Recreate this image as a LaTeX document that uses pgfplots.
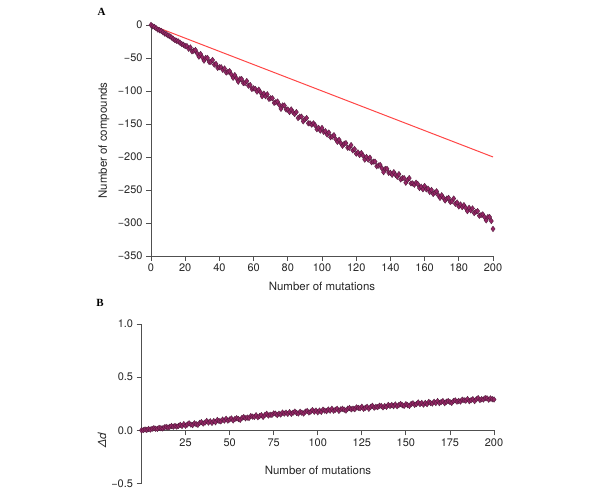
\documentclass[border=0pt]{standalone}
\usepackage{pgfplots}
\pgfplotsset{compat=1.18}
\usepackage{pgfplotstable}
\usepackage{fontspec}
\setmainfont{TeX Gyre Heros}
\newfontfamily\panelfont{Liberation Serif}
\definecolor{mfill}{RGB}{150,38,102}
\definecolor{medge}{RGB}{78,26,58}
\definecolor{axgray}{RGB}{80,80,80}
\definecolor{redline}{RGB}{255,70,70}

\pgfplotstableread[row sep=\\]{
x y\\
0 0\\ 1 -2\\ 2 -3\\ 3 -5\\ 4 -7\\ 5 -8\\ 6 -9\\ 7 -11\\ 8 -13\\ 9 -14\\
10 -16\\ 11 -17\\ 12 -19\\ 13 -21\\ 14 -23\\ 15 -24\\ 16 -25\\ 17 -27\\ 18 -29\\ 19 -30\\
20 -32\\ 21 -32\\ 22 -36\\ 23 -34\\ 24 -40\\ 25 -39\\ 26 -38\\ 27 -43\\ 28 -48\\ 29 -44\\
30 -49\\ 31 -54\\ 32 -50\\ 33 -50\\ 34 -56\\ 35 -56\\ 36 -53\\ 37 -60\\ 38 -59\\ 39 -65\\
40 -64\\ 41 -64\\ 42 -68\\ 43 -66\\ 44 -72\\ 45 -71\\ 46 -70\\ 47 -75\\ 48 -80\\ 49 -76\\
50 -81\\ 51 -86\\ 52 -82\\ 53 -82\\ 54 -88\\ 55 -88\\ 56 -85\\ 57 -92\\ 58 -91\\ 59 -97\\
60 -96\\ 61 -97\\ 62 -101\\ 63 -98\\ 64 -102\\ 65 -108\\ 66 -104\\ 67 -108\\ 68 -105\\ 69 -112\\
70 -111\\ 71 -111\\ 72 -118\\ 73 -117\\ 74 -116\\ 75 -121\\ 76 -127\\ 77 -122\\ 78 -122\\ 79 -128\\
80 -128\\ 81 -132\\ 82 -128\\ 83 -132\\ 84 -135\\ 85 -132\\ 86 -141\\ 87 -139\\ 88 -139\\ 89 -146\\
90 -143\\ 91 -141\\ 92 -149\\ 93 -149\\ 94 -151\\ 95 -149\\ 96 -152\\ 97 -158\\ 98 -156\\ 99 -160\\
100 -156\\ 101 -162\\ 102 -161\\ 103 -166\\ 104 -163\\ 105 -170\\ 106 -169\\ 107 -167\\ 108 -173\\ 109 -177\\
110 -174\\ 111 -179\\ 112 -183\\ 113 -180\\ 114 -179\\ 115 -186\\ 116 -186\\ 117 -182\\ 118 -190\\ 119 -188\\
120 -195\\ 121 -193\\ 122 -197\\ 123 -194\\ 124 -198\\ 125 -204\\ 126 -200\\ 127 -204\\ 128 -201\\ 129 -208\\
130 -207\\ 131 -207\\ 132 -214\\ 133 -213\\ 134 -212\\ 135 -217\\ 136 -223\\ 137 -218\\ 138 -218\\ 139 -224\\
140 -224\\ 141 -227\\ 142 -223\\ 143 -227\\ 144 -230\\ 145 -226\\ 146 -234\\ 147 -232\\ 148 -232\\ 149 -239\\
150 -235\\ 151 -232\\ 152 -240\\ 153 -240\\ 154 -242\\ 155 -239\\ 156 -241\\ 157 -247\\ 158 -245\\ 159 -249\\
160 -244\\ 161 -249\\ 162 -248\\ 163 -253\\ 164 -250\\ 165 -256\\ 166 -254\\ 167 -252\\ 168 -258\\ 169 -262\\
170 -258\\ 171 -262\\ 172 -266\\ 173 -263\\ 174 -262\\ 175 -268\\ 176 -267\\ 177 -263\\ 178 -271\\ 179 -269\\
180 -275\\ 181 -272\\ 182 -276\\ 183 -273\\ 184 -277\\ 185 -282\\ 186 -277\\ 187 -281\\ 188 -278\\ 189 -285\\
190 -283\\ 191 -282\\ 192 -289\\ 193 -288\\ 194 -287\\ 195 -291\\ 196 -296\\ 197 -291\\ 198 -291\\ 199 -297\\
200 -309\\
}\tableA

\pgfplotstableread[row sep=\\]{
x y\\
0 0.000\\ 1 0.002\\ 2 0.008\\ 3 0.004\\ 4 0.013\\ 5 0.007\\ 6 0.014\\ 7 0.020\\ 8 0.015\\ 9 0.014\\
10 0.023\\ 11 0.020\\ 12 0.018\\ 13 0.028\\ 14 0.032\\ 15 0.027\\ 16 0.033\\ 17 0.041\\ 18 0.034\\ 19 0.041\\
20 0.035\\ 21 0.042\\ 22 0.052\\ 23 0.041\\ 24 0.058\\ 25 0.043\\ 26 0.055\\ 27 0.066\\ 28 0.054\\ 29 0.049\\
30 0.066\\ 31 0.058\\ 32 0.052\\ 33 0.070\\ 34 0.077\\ 35 0.064\\ 36 0.073\\ 37 0.088\\ 38 0.073\\ 39 0.085\\
40 0.070\\ 41 0.087\\ 42 0.076\\ 43 0.097\\ 44 0.088\\ 45 0.084\\ 46 0.101\\ 47 0.091\\ 48 0.109\\ 49 0.091\\
50 0.102\\ 51 0.112\\ 52 0.093\\ 53 0.107\\ 54 0.114\\ 55 0.106\\ 56 0.099\\ 57 0.117\\ 58 0.124\\ 59 0.113\\
60 0.120\\ 61 0.116\\ 62 0.134\\ 63 0.129\\ 64 0.126\\ 65 0.142\\ 66 0.123\\ 67 0.134\\ 68 0.143\\ 69 0.126\\
70 0.144\\ 71 0.156\\ 72 0.139\\ 73 0.147\\ 74 0.145\\ 75 0.159\\ 76 0.157\\ 77 0.144\\ 78 0.156\\ 79 0.149\\
80 0.167\\ 81 0.157\\ 82 0.166\\ 83 0.155\\ 84 0.171\\ 85 0.155\\ 86 0.166\\ 87 0.176\\ 88 0.164\\ 89 0.158\\
90 0.174\\ 91 0.165\\ 92 0.158\\ 93 0.176\\ 94 0.182\\ 95 0.168\\ 96 0.176\\ 97 0.190\\ 98 0.175\\ 99 0.186\\
100 0.170\\ 101 0.186\\ 102 0.174\\ 103 0.195\\ 104 0.185\\ 105 0.180\\ 106 0.196\\ 107 0.185\\ 108 0.203\\ 109 0.184\\
110 0.194\\ 111 0.203\\ 112 0.183\\ 113 0.197\\ 114 0.203\\ 115 0.194\\ 116 0.186\\ 117 0.203\\ 118 0.210\\ 119 0.198\\
120 0.204\\ 121 0.199\\ 122 0.216\\ 123 0.211\\ 124 0.207\\ 125 0.222\\ 126 0.202\\ 127 0.212\\ 128 0.221\\ 129 0.203\\
130 0.220\\ 131 0.231\\ 132 0.213\\ 133 0.221\\ 134 0.218\\ 135 0.231\\ 136 0.229\\ 137 0.216\\ 138 0.228\\ 139 0.221\\
140 0.239\\ 141 0.229\\ 142 0.238\\ 143 0.227\\ 144 0.243\\ 145 0.227\\ 146 0.238\\ 147 0.248\\ 148 0.236\\ 149 0.230\\
150 0.246\\ 151 0.237\\ 152 0.230\\ 153 0.248\\ 154 0.254\\ 155 0.240\\ 156 0.248\\ 157 0.262\\ 158 0.247\\ 159 0.258\\
160 0.242\\ 161 0.258\\ 162 0.246\\ 163 0.267\\ 164 0.257\\ 165 0.252\\ 166 0.268\\ 167 0.257\\ 168 0.275\\ 169 0.256\\
170 0.266\\ 171 0.275\\ 172 0.255\\ 173 0.269\\ 174 0.275\\ 175 0.266\\ 176 0.258\\ 177 0.275\\ 178 0.282\\ 179 0.270\\
180 0.276\\ 181 0.271\\ 182 0.288\\ 183 0.283\\ 184 0.279\\ 185 0.294\\ 186 0.274\\ 187 0.284\\ 188 0.293\\ 189 0.275\\
190 0.292\\ 191 0.303\\ 192 0.285\\ 193 0.293\\ 194 0.290\\ 195 0.303\\ 196 0.301\\ 197 0.288\\ 198 0.300\\ 199 0.293\\
200 0.290\\
}\tableB

\pgfplotsset{
  common/.style={
    scale only axis,
    anchor=south west,
    axis line style={axgray, line width=0.9bp},
    tick style={axgray, line width=0.9bp},
    tick align=outside,
    major tick length=5bp,
    /pgf/number format/assume math mode=true,
    ticklabel style={font=\fontsize{11}{13}\selectfont, text=black!85},
    clip=false,
  },
  pts/.style={only marks, mark=diamond*, mark size=2.8bp,
    mark options={fill=mfill, draw=medge, line width=0.35bp}},
}

\begin{document}
\begin{tikzpicture}[x=1bp,y=1bp]
\useasboundingbox (0,0) rectangle (600,495);
% Panel A
\begin{axis}[common,
  at={(151bp,239bp)},
  width=342bp, height=233bp,
  xmin=0, xmax=200, ymin=-350, ymax=3,
  axis x line*=bottom, axis y line*=left,
  xtick={0,20,...,200},
  ytick={-350,-300,-250,-200,-150,-100,-50,0},
  yticklabels={−350,−300,−250,−200,−150,−100,−50,0},
  xticklabel style={yshift=1bp},
]
\addplot[redline, line width=1bp] coordinates {(0,0) (200,-200)};
\addplot[pts] table[x=x,y=y] {\tableA};
\end{axis}
% Panel B
\begin{axis}[common,
  at={(141.5bp,11.5bp)},
  width=352.5bp, height=159.5bp,
  xmin=0, xmax=200, ymin=-0.5, ymax=1.0,
  axis x line*=middle, axis y line*=left,
  xtick={25,50,...,200},
  ytick={-0.5,0,0.5,1},
  yticklabels={−0.5,0.0,0.5,1.0},
]
\addplot[pts] table[x=x,y=y] {\tableB};
\end{axis}
% labels
\node[font=\panelfont\bfseries\fontsize{11}{13}\selectfont] at (101.5,483) {A};
\node[font=\panelfont\bfseries\fontsize{11}{13}\selectfont] at (100,192) {B};
\node[rotate=90, font=\fontsize{11.5}{13}\selectfont, text=black!85] at (104,354.5) {Number of compounds};
\node[font=\fontsize{11.5}{13}\selectfont, text=black!85] at (322,209) {Number of mutations};
\node[font=\fontsize{11.5}{13}\selectfont, text=black!85] at (318,25) {Number of mutations};
\node[rotate=90, font=\fontsize{11.5}{13}\selectfont\itshape, text=black!85] at (102,55) {Δd};
\end{tikzpicture}
\end{document}
